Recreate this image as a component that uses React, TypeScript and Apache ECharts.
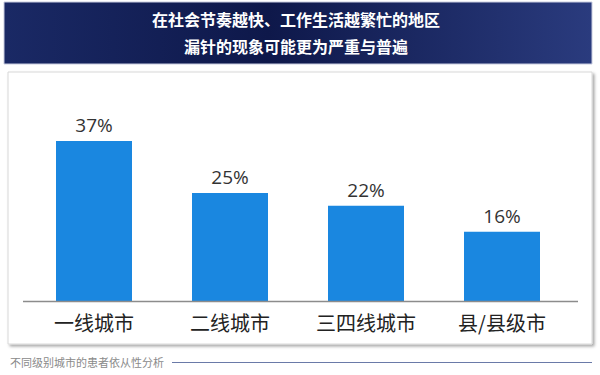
import React, { useEffect, useRef } from "react";
import * as echarts from "echarts";

const categories = ["一线城市", "二线城市", "三四线城市", "县/县级市"];
const values = [37, 25, 22, 16];
const titleLines = ["在社会节奏越快、工作生活越繁忙的地区", "漏针的现象可能更为严重与普遍"];
const footerText = "不同级别城市的患者依从性分析";

export default function App() {
  const ref = useRef<HTMLDivElement>(null);
  useEffect(() => {
    const chart = echarts.init(ref.current!, null, { renderer: "svg" });
    chart.setOption({
      animation: false,
      backgroundColor: "#ffffff",
      graphic: [
        {
          type: "rect",
          shape: { x: 8, y: 72, width: 584, height: 272 },
          style: {
            fill: "#ffffff",
            stroke: "#d8d8d8",
            lineWidth: 1,
            shadowColor: "rgba(0,0,0,0.35)",
            shadowBlur: 3,
            shadowOffsetX: 2,
            shadowOffsetY: 2,
          },
          z: -10,
        },
        {
          type: "rect",
          shape: { x: 4, y: 2, width: 588, height: 62 },
          style: {
            fill: new echarts.graphic.LinearGradient(0, 0, 1, 0, [
              { offset: 0, color: "#1a2965" },
              { offset: 0.45, color: "#0e184a" },
              { offset: 1, color: "#2a3b7e" },
            ]),
            stroke: "#c8cce0",
            lineWidth: 1,
          },
          z: 1,
        },
        {
          type: "text",
          x: 296,
          y: 19,
          style: {
            text: titleLines[0],
            fill: "#ffffff",
            font: "bold 16px 'Noto Sans CJK SC'",
            align: "center",
            verticalAlign: "middle",
          },
          z: 2,
        },
        {
          type: "text",
          x: 296,
          y: 46,
          style: {
            text: titleLines[1],
            fill: "#ffffff",
            font: "bold 16px 'Noto Sans CJK SC'",
            align: "center",
            verticalAlign: "middle",
          },
          z: 2,
        },
        {
          type: "text",
          x: 10,
          y: 362,
          style: {
            text: footerText,
            fill: "#8a8a8a",
            font: "11px 'Noto Sans CJK SC'",
            align: "left",
            verticalAlign: "middle",
          },
        },
        {
          type: "line",
          shape: { x1: 172, y1: 362.5, x2: 592, y2: 362.5 },
          style: { stroke: "#6a7aa8", lineWidth: 1 },
        },
        {
          type: "line",
          shape: { x1: 23, y1: 301.5, x2: 578, y2: 301.5 },
          style: { stroke: "#8c8c8c", lineWidth: 1.5 },
          z: 10,
        },
      ],
      grid: { left: 26, right: 30, top: 128, bottom: 74, containLabel: false },
      xAxis: {
        type: "category",
        data: categories,
        axisLine: { show: false },
        axisTick: { show: false },
        axisLabel: {
          color: "#222222",
          fontSize: 20,
          fontFamily: "'Noto Sans CJK SC'",
          margin: 11,
        },
      },
      yAxis: {
        type: "value",
        min: 0,
        max: 40,
        show: false,
        splitLine: { show: false },
      },
      series: [
        {
          type: "bar",
          data: values,
          barWidth: 76,
          itemStyle: { color: "#1a87e0" },
          label: {
            show: true,
            position: "top",
            distance: 6,
            formatter: "{c}%",
            color: "#333333",
            fontSize: 19,
            fontFamily: "'Open Sans', sans-serif",
          },
        },
      ],
    });
    return () => chart.dispose();
  }, []);
  return (
    <div
      ref={ref}
      style={{ position: "fixed", left: 0, top: 0, width: 600, height: 375 }}
    />
  );
}
